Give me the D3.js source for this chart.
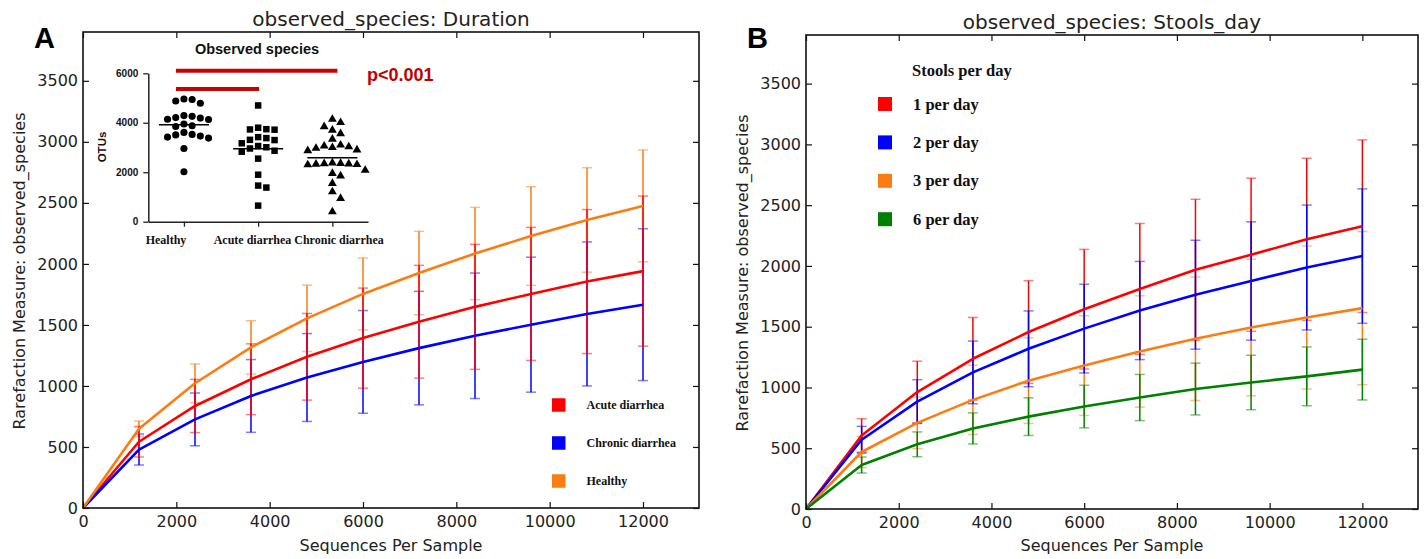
<!DOCTYPE html>
<html>
<head>
<meta charset="utf-8">
<script src="https://cdn.jsdelivr.net/npm/d3@7"></script>
<style>
body { margin: 0; background: #fff; }
</style>
</head>
<body>
<svg id="fig" width="1427" height="559" font-family="DejaVu Sans"></svg>
<script>
// rarefaction depths and axis ticks
const depths = [0, 1200, 2400, 3600, 4800, 6000, 7200, 8400, 9600, 10800, 12000];
const xTicks = [0, 2000, 4000, 6000, 8000, 10000, 12000];
const yTicks = [0, 500, 1000, 1500, 2000, 2500, 3000, 3500];

// Panel A: duration
const durationNames = ["Acute diarrhea", "Chronic diarrhea", "Healthy"];
const acuteMean = [0, 543, 836, 1055, 1239, 1392, 1526, 1648, 1754, 1855, 1941];
const acuteErr = [0, 125, 218, 290, 355, 410, 462, 512, 545, 590, 615];
const chronicMean = [0, 479, 726, 918, 1069, 1197, 1310, 1411, 1502, 1590, 1666];
const chronicErr = [0, 127, 216, 298, 360, 421, 465, 514, 553, 590, 622];
const healthyMean = [0, 650, 1022, 1316, 1554, 1754, 1925, 2085, 2228, 2360, 2475];
const healthyErr = [0, 62, 158, 218, 272, 295, 342, 378, 404, 428, 458];

// Panel B: stools per day
const stoolNames = ["1 per day", "2 per day", "3 per day", "6 per day"];
const oneMean = [0, 605, 962, 1236, 1456, 1644, 1810, 1968, 2092, 2219, 2327];
const oneErr = [0, 138, 254, 340, 423, 492, 539, 580, 630, 667, 710];
const twoMean = [0, 570, 884, 1124, 1318, 1484, 1633, 1763, 1876, 1987, 2081];
const twoErr = [0, 110, 180, 258, 312, 365, 404, 448, 487, 514, 553];
const threeMean = [0, 469, 709, 898, 1056, 1180, 1296, 1401, 1493, 1576, 1653];
const threeErr = [0, 129, 212, 285, 352, 410, 458, 508, 562, 589, 630];
const sixMean = [0, 362, 532, 663, 760, 843, 917, 987, 1041, 1091, 1147];
const sixErr = [0, 66, 102, 128, 155, 175, 190, 213, 224, 242, 250];

// Inset: observed species (OTUs) per group
const insetGroups = ["Healthy", "Acute diarrhea", "Chronic diarrhea"];
const healthyOtus = [4960, 4880, 4790, 4940, 4290, 4210, 4140, 4130, 4190, 4260, 3950, 3880,
    3850, 3530, 3460, 3380, 3420, 3510, 3610, 2960, 2020];
const acuteOtus = [4700, 3800, 3740, 3720, 3730, 3420, 3380, 3300, 3310, 3170, 3060, 3010,
    2870, 2830, 2960, 2550, 1900, 1460, 1380, 650];
const chronicOtus = [4140, 4010, 3840, 3700, 3560, 3340, 3100, 3030, 2970, 2870, 2900, 3000,
    3060, 2380, 2350, 2330, 2300, 2360, 2340, 2310, 2080, 1950, 1850, 1550, 1210, 940, 400];
const insetTicks = [0, 2000, 4000, 6000];
// significance bars: [from, to, level]
const sigBars = [["Healthy", "Chronic diarrhea", 6100], ["Healthy", "Acute diarrhea", 5370]];

const RED = "#ff0000", BLUE = "#0000ff", ORANGE = "#fb7d12", GREEN = "#008000";

const svg = d3.select("#fig");
svg.append("rect").attr("width", 1427).attr("height", 559).attr("fill", "#fff");

function rarefactionPanel(box, title, series, errOrder) {
    const x = d3.scaleLinear().domain([0, 13200]).range([box.left, box.right]);
    const y = d3.scaleLinear().domain([0, 3900]).range([box.bottom, box.top]);
    const g = svg.append("g");

    // error bars
    errOrder.forEach(i => {
        const s = series[i];
        const pts = depths.map((d, k) => ({ d: d, m: s.mean[k], e: s.err[k] })).filter(p => p.d > 0);
        const eg = g.append("g");
        eg.selectAll("line.v").data(pts).join("line")
            .attr("x1", p => x(p.d)).attr("x2", p => x(p.d))
            .attr("y1", p => y(p.m - p.e)).attr("y2", p => y(p.m + p.e))
            .attr("stroke", s.color).attr("stroke-width", 1.5);
        const caps = pts.flatMap(p => [p.m - p.e, p.m + p.e].map(v => ({ d: p.d, v: v })));
        eg.selectAll("line.c").data(caps).join("line")
            .attr("x1", c => x(c.d) - 5).attr("x2", c => x(c.d) + 5)
            .attr("y1", c => y(c.v)).attr("y2", c => y(c.v))
            .attr("stroke", s.color).attr("stroke-width", 1.5).attr("opacity", 0.5);
    });

    // mean curves
    const line = d3.line().x((d, k) => x(depths[k])).y(d => y(d));
    series.forEach(s => {
        g.append("path").datum(s.mean).attr("d", line)
            .attr("fill", "none").attr("stroke", s.color).attr("stroke-width", 2.6)
            .attr("stroke-linejoin", "round");
    });

    // axes with inward ticks on all sides
    const fmt = d3.format("d");
    g.append("g").attr("transform", `translate(0,${box.bottom})`)
        .call(d3.axisBottom(x).tickValues(xTicks).tickFormat(fmt).tickSizeInner(-6).tickSizeOuter(0).tickPadding(8));
    g.append("g").attr("transform", `translate(${box.left},0)`)
        .call(d3.axisLeft(y).tickValues(yTicks).tickFormat(fmt).tickSizeInner(-6).tickSizeOuter(0).tickPadding(5));
    g.append("g").attr("transform", `translate(0,${box.top})`)
        .call(d3.axisTop(x).tickValues(xTicks).tickSizeInner(-6).tickSizeOuter(0).tickFormat(""));
    g.append("g").attr("transform", `translate(${box.right},0)`)
        .call(d3.axisRight(y).tickValues(yTicks).tickSizeInner(-6).tickSizeOuter(0).tickFormat(""));
    g.selectAll(".domain").remove();
    g.selectAll(".tick line").attr("stroke", "#111").attr("stroke-width", 1.2);
    g.selectAll(".tick text").attr("font-family", "DejaVu Sans").attr("font-size", 16).attr("fill", "#222");

    g.append("rect")
        .attr("x", box.left).attr("y", box.top)
        .attr("width", box.right - box.left).attr("height", box.bottom - box.top)
        .attr("fill", "none").attr("stroke", "#111").attr("stroke-width", 1.6);

    const cx = (box.left + box.right) / 2;
    g.append("text").attr("x", cx).attr("y", box.top - 6)
        .attr("text-anchor", "middle").attr("font-size", 20).attr("fill", "#222").text(title);
    g.append("text").attr("x", cx).attr("y", 551)
        .attr("text-anchor", "middle").attr("font-size", 16).attr("fill", "#222").text("Sequences Per Sample");
    g.append("text")
        .attr("transform", `translate(${box.left - 58},${(box.top + box.bottom) / 2 + 1}) rotate(-90)`)
        .attr("text-anchor", "middle").attr("font-size", 16).attr("fill", "#222")
        .text("Rarefaction Measure: observed_species");
    return g;
}

function legend(g, items, x0, y0, step, size, fontSize) {
    const lg = g.append("g");
    items.forEach((it, i) => {
        const cy = y0 + i * step;
        lg.append("rect").attr("x", x0).attr("y", cy - size / 2)
            .attr("width", size).attr("height", size).attr("fill", it.color);
        lg.append("text").attr("x", x0 + size + 21).attr("y", cy)
            .attr("dominant-baseline", "central")
            .attr("font-family", "Liberation Serif").attr("font-weight", "bold")
            .attr("font-size", fontSize).attr("fill", "#111").text(it.name);
    });
    return lg;
}

// ---- Panel A ----
const seriesA = [
    { name: durationNames[0], color: RED, mean: acuteMean, err: acuteErr },
    { name: durationNames[1], color: BLUE, mean: chronicMean, err: chronicErr },
    { name: durationNames[2], color: ORANGE, mean: healthyMean, err: healthyErr }
];
const gA = rarefactionPanel({ left: 83, right: 699, top: 32, bottom: 508 },
    "observed_species: Duration", seriesA, [2, 1, 0]);
legend(gA, seriesA, 552, 405, 38, 13.5, 12);

// ---- Panel B ----
const seriesB = [
    { name: stoolNames[0], color: RED, mean: oneMean, err: oneErr },
    { name: stoolNames[1], color: BLUE, mean: twoMean, err: twoErr },
    { name: stoolNames[2], color: ORANGE, mean: threeMean, err: threeErr },
    { name: stoolNames[3], color: GREEN, mean: sixMean, err: sixErr }
];
const gB = rarefactionPanel({ left: 806, right: 1418, top: 35, bottom: 509 },
    "observed_species: Stools_day", seriesB, [0, 2, 1, 3]);
legend(gB, seriesB, 878, 104, 38.4, 14, 16.5);
gB.append("text").attr("x", 912).attr("y", 70).attr("dominant-baseline", "central")
    .attr("font-family", "Liberation Serif").attr("font-weight", "bold")
    .attr("font-size", 16.5).attr("fill", "#111").text("Stools per day");

// ---- Inset in panel A ----
const ins = svg.append("g");
const insY = d3.scaleLinear().domain([0, 6000]).range([221.7, 73.3]);
const insX = d3.scalePoint().domain(insetGroups).range([148.3, 368]).padding(0.48);
const insLabelX = d3.scalePoint().domain(insetGroups).range([166, 339]);

ins.append("g").attr("transform", "translate(148.3,0)")
    .call(d3.axisLeft(insY).tickValues(insetTicks).tickFormat(d3.format("d"))
        .tickSizeInner(5).tickSizeOuter(0).tickPadding(5));
ins.append("g").attr("transform", "translate(0,221.7)")
    .call(d3.axisBottom(insX).tickSizeInner(5).tickSizeOuter(0).tickFormat(""));
ins.selectAll(".domain").attr("stroke", "#222").attr("stroke-width", 1.5);
ins.selectAll(".tick line").attr("stroke", "#222").attr("stroke-width", 1.3);
ins.selectAll(".tick text").attr("font-family", "Liberation Sans").attr("font-weight", "bold")
    .attr("font-size", 10).attr("fill", "#111");

ins.selectAll("text.cat").data(insetGroups).join("text")
    .attr("x", d => insLabelX(d)).attr("y", 244)
    .attr("text-anchor", "middle").attr("font-family", "Liberation Serif")
    .attr("font-weight", "bold").attr("font-size", 12).attr("fill", "#111").text(d => d);

ins.append("text").attr("transform", "translate(106,147) rotate(-90)")
    .attr("text-anchor", "middle").attr("font-family", "Liberation Sans")
    .attr("font-weight", "bold").attr("font-size", 11.5).attr("fill", "#111").text("OTUs");

ins.append("text").attr("x", 257).attr("y", 54).attr("text-anchor", "middle")
    .attr("font-family", "Liberation Sans").attr("font-weight", "bold")
    .attr("font-size", 14.5).attr("fill", "#111").text("Observed species");

// significance bars
sigBars.forEach(([a, b, lvl]) => {
    const ends = { "Healthy": -8, "Acute diarrhea": 1, "Chronic diarrhea": 5 };
    ins.append("line")
        .attr("x1", insX(a) + ends[a]).attr("x2", insX(b) + ends[b])
        .attr("y1", insY(lvl)).attr("y2", insY(lvl))
        .attr("stroke", "#c80000").attr("stroke-width", 4);
});
ins.append("text").attr("x", 367).attr("y", 80.5)
    .attr("font-family", "Liberation Sans").attr("font-weight", "bold")
    .attr("font-size", 18).attr("fill", "#c00000").text("p<0.001");

// swarm layout of points
function swarm(values, spacing) {
    const placed = [];
    values.slice().sort((a, b) => b - a).forEach(v => {
        const py = insY(v);
        for (let k = 0; ; k++) {
            const off = k === 0 ? 0 : (k % 2 ? 1 : -1) * Math.ceil(k / 2) * spacing;
            if (placed.every(p => Math.hypot(p.dx - off, p.py - py) >= spacing)) {
                placed.push({ v: v, dx: off, py: py });
                break;
            }
        }
    });
    return placed;
}

const insetSets = [
    { name: insetGroups[0], values: healthyOtus, symbol: d3.symbolCircle, size: 40 },
    { name: insetGroups[1], values: acuteOtus, symbol: d3.symbolSquare, size: 42 },
    { name: insetGroups[2], values: chronicOtus, symbol: d3.symbolTriangle, size: 34 }
];
insetSets.forEach(set => {
    const cx = insX(set.name);
    const pts = swarm(set.values, 8.2);
    ins.append("g").selectAll("path").data(pts).join("path")
        .attr("d", d3.symbol().type(set.symbol).size(set.size))
        .attr("transform", p => `translate(${cx + p.dx},${p.py})`)
        .attr("fill", "#000");
    const m = d3.mean(set.values);
    ins.append("line").attr("x1", cx - 25).attr("x2", cx + 25)
        .attr("y1", insY(m)).attr("y2", insY(m))
        .attr("stroke", "#000").attr("stroke-width", 1.6);
});

// panel letters
svg.append("text").attr("x", 34).attr("y", 48).attr("font-family", "Liberation Sans")
    .attr("font-weight", "bold").attr("font-size", 29).attr("fill", "#000").text("A");
svg.append("text").attr("x", 747).attr("y", 48).attr("font-family", "Liberation Sans")
    .attr("font-weight", "bold").attr("font-size", 29).attr("fill", "#000").text("B");
</script>
</body>
</html>
